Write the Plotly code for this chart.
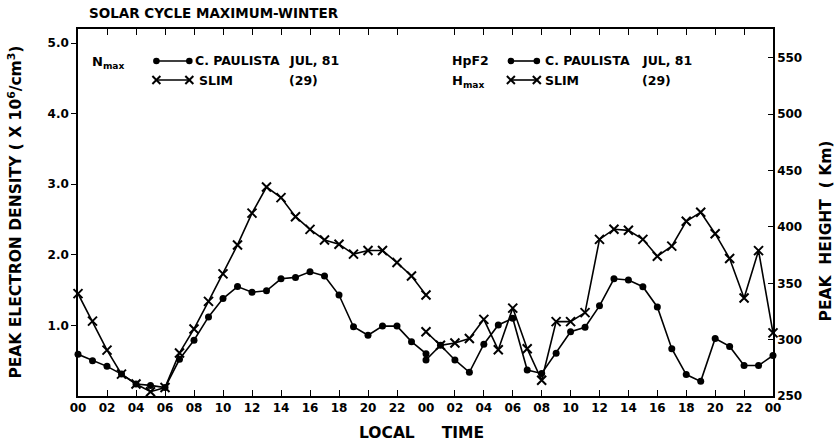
import plotly.graph_objects as go

# ---------------- data ----------------
hours = list(range(0, 25))
tick_hours = list(range(0, 25, 2))
tick_text_left = ["00", "02", "04", "06", "08", "10", "12", "14", "16", "18", "20", "22", ""]
tick_text_right = ["00", "02", "04", "06", "08", "10", "12", "14", "16", "18", "20", "22", "00"]

density_ticks = [1, 2, 3, 4, 5]
density_tick_text = ["1.0", "2.0", "3.0", "4.0", "5.0"]
height_ticks = [250, 300, 350, 400, 450, 500, 550]
height_tick_text = ["250", "300", "350", "400", "450", "500", "550"]

# N_max (x 10^6 / cm^3)
nmax_paulista = [0.59, 0.50, 0.42, 0.31, 0.17, 0.15, 0.12, 0.52, 0.79, 1.12, 1.38, 1.55, 1.47,
                 1.49, 1.66, 1.68, 1.76, 1.70, 1.43, 0.98, 0.86, 0.99, 0.99, 0.77, 0.60]
nmax_slim = [1.45, 1.06, 0.65, 0.31, 0.17, 0.06, 0.12, 0.61, 0.95, 1.34, 1.73, 2.14, 2.59,
             2.96, 2.81, 2.54, 2.36, 2.21, 2.15, 2.01, 2.06, 2.06, 1.89, 1.70, 1.43]
# Peak height (km)
hpf2_paulista = [282, 295, 282, 271, 296, 313, 319, 273, 270, 288, 307, 311, 330,
                 354, 353, 347, 329, 292, 269, 263, 301, 294, 277, 277, 286]
hmax_slim = [307, 295, 297, 301, 318, 291, 328, 292, 264, 316, 316, 324, 389,
             398, 397, 389, 374, 383, 405, 413, 394, 372, 337, 379, 306]

# ---------------- layout geometry ----------------
W, H = 836, 444
L, R, T, B = 77.5, 773.5, 29, 396
FONT = "DejaVu Sans"
BLACK = "black"


def px(x):
    return (x - L) / (R - L)


def py(y):
    return (B - y) / (B - T)


fig = go.Figure()

line_style = dict(color=BLACK, width=1.6)
dot_marker = dict(symbol="circle", size=7, color=BLACK)
x_marker = dict(symbol="x-thin", size=9, color=BLACK, line=dict(width=2, color=BLACK))

fig.add_trace(go.Scatter(x=hours, y=nmax_paulista, mode="lines+markers", line=line_style,
                         marker=dot_marker, xaxis="x", yaxis="y", cliponaxis=False))
fig.add_trace(go.Scatter(x=hours, y=nmax_slim, mode="lines+markers", line=line_style,
                         marker=x_marker, xaxis="x", yaxis="y", cliponaxis=False))
fig.add_trace(go.Scatter(x=hours, y=hpf2_paulista, mode="lines+markers", line=line_style,
                         marker=dot_marker, xaxis="x2", yaxis="y2", cliponaxis=False))
fig.add_trace(go.Scatter(x=hours, y=hmax_slim, mode="lines+markers", line=line_style,
                         marker=x_marker, xaxis="x2", yaxis="y2", cliponaxis=False))

tickfont = dict(family=FONT, size=12, color=BLACK, weight="bold")
axis_base = dict(showline=True, linecolor=BLACK, linewidth=1.5, showgrid=False, zeroline=False,
                 tickcolor=BLACK, tickwidth=1.3, tickfont=tickfont)

dens_range = [0, (B - T) / 70.6]
height_range = [250, 250 + (B - T) / 1.127]
mid = px(426)

fig.update_layout(
    width=W, height=H,
    margin=dict(l=L, r=W - R, t=T, b=H - B, pad=0),
    paper_bgcolor="white", plot_bgcolor="white",
    showlegend=False,
    xaxis=dict(axis_base, domain=[0, mid], range=[0, 24], anchor="y", ticks="inside", ticklen=6,
               mirror="ticks", tickmode="array", tickvals=tick_hours, ticktext=tick_text_left),
    xaxis2=dict(axis_base, domain=[mid, 1], range=[0, 24], anchor="y2", ticks="inside", ticklen=6,
                mirror="ticks", tickmode="array", tickvals=tick_hours, ticktext=tick_text_right),
    yaxis=dict(axis_base, range=dens_range, anchor="x", side="left", ticks="outside", ticklen=5,
               tickmode="array", tickvals=density_ticks, ticktext=density_tick_text),
    yaxis3=dict(axis_base, range=dens_range, anchor="x", side="right", overlaying="y",
                ticks="inside", ticklen=5, tickmode="array", tickvals=density_ticks,
                showticklabels=False),
    yaxis2=dict(axis_base, range=height_range, anchor="x2", side="right", ticks="inside", ticklen=5,
                tickmode="array", tickvals=height_ticks, ticktext=height_tick_text),
    yaxis4=dict(axis_base, range=height_range, anchor="x2", side="left", overlaying="y2",
                ticks="inside", ticklen=5, tickmode="array", tickvals=height_ticks,
                showticklabels=False),
)

# ---------------- text ----------------
def note(text, x, y, size=13, xanchor="left", angle=0):
    fig.add_annotation(text=text, x=px(x), y=py(y), xref="paper", yref="paper",
                       xanchor=xanchor, yanchor="middle", showarrow=False, textangle=angle,
                       font=dict(family=FONT, size=size, color=BLACK, weight="bold"))


NB = "\u00a0"
note("SOLAR CYCLE MAXIMUM-WINTER", 87, 13, size=13.5)
note("PEAK ELECTRON DENSITY ( X 10<sup>6</sup>/cm<sup>3</sup>)", 14, 212, size=15.5,
     xanchor="center", angle=-90)
note("PEAK" + NB * 2 + "HEIGHT" + NB * 2 + "( Km)", 827, 231, size=15.5, xanchor="center", angle=-90)
note("LOCAL" + NB * 5 + "TIME", 421, 433, size=15.5, xanchor="center")

row1, row2 = 61, 80
# left legend
note("N<sub>max</sub>", 90, row1 + 1, size=13)
note("C. PAULISTA", 193, row1, size=12.5)
note("JUL, 81", 287, row1, size=12.5)
note("SLIM", 197, row2, size=12.5)
note("(29)", 287, row2, size=12.5)
# right legend
note("HpF2", 450, row1, size=12.5)
note("H<sub>max</sub>", 450, row2 + 1, size=13)
note("C. PAULISTA", 543, row1, size=12.5)
note("JUL, 81", 640, row1, size=12.5)
note("SLIM", 543, row2, size=12.5)
note("(29)", 640, row2, size=12.5)


def seg(x0, y0, x1, y1, w=1.6):
    fig.add_shape(type="line", xref="paper", yref="paper", x0=px(x0), y0=py(y0), x1=px(x1),
                  y1=py(y1), line=dict(color=BLACK, width=w))


def dot(x, y, r=3.3):
    fig.add_shape(type="circle", xref="paper", yref="paper", xsizemode="pixel", ysizemode="pixel",
                  xanchor=px(x), yanchor=py(y), x0=-r, x1=r, y0=-r, y1=r,
                  fillcolor=BLACK, line=dict(color=BLACK, width=0))


def cross(x, y, s=4):
    seg(x - s, y - s, x + s, y + s, w=2)
    seg(x - s, y + s, x + s, y - s, w=2)


for (a, b) in [(156, 189), (511, 537)]:
    seg(a, row1, b, row1)
    dot(a, row1)
    dot(b, row1)
    seg(a, row2, b, row2)
    cross(a, row2)
    cross(b, row2)

fig.write_html("out.html")
